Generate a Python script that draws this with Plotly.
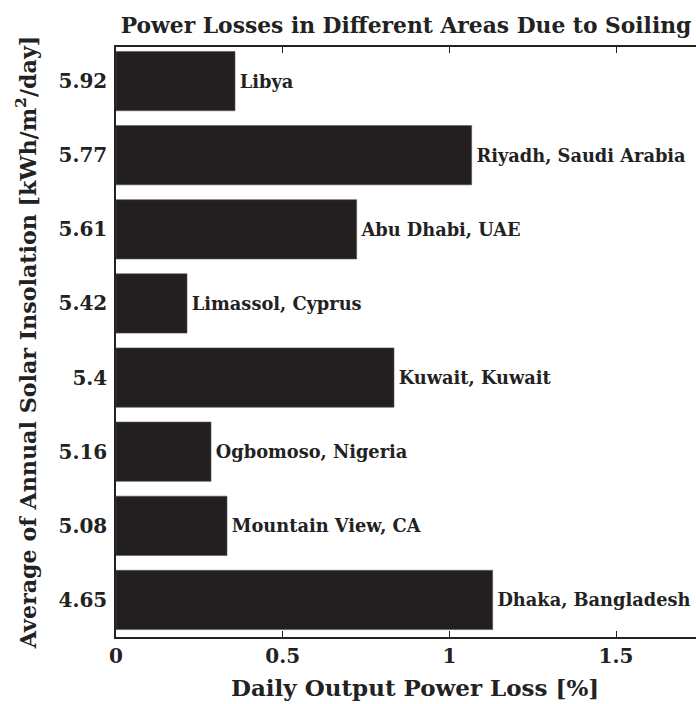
import plotly.graph_objects as go

locations = ["Libya", "Riyadh, Saudi Arabia", "Abu Dhabi, UAE", "Limassol, Cyprus",
             "Kuwait, Kuwait", "Ogbomoso, Nigeria", "Mountain View, CA", "Dhaka, Bangladesh"]
insolation = ["5.92", "5.77", "5.61", "5.42", "5.4", "5.16", "5.08", "4.65"]
power_loss = [0.357, 1.067, 0.722, 0.213, 0.834, 0.285, 0.333, 1.130]

FONT = "DejaVu Serif"
INK = "#222222"
positions = list(range(len(locations)))
bar_text = ["\u200a" + loc for loc in locations]

fig = go.Figure(go.Bar(
    x=power_loss, y=positions, orientation="h",
    marker=dict(color="#231f20", line=dict(color="#555555", width=0.6)),
    width=0.8,
    text=bar_text, textposition="outside", constraintext="none",
    textfont=dict(family=FONT, size=17.8, color=INK, weight="bold"),
    cliponaxis=False, hoverinfo="skip",
))

fig.update_layout(
    width=696, height=704,
    margin=dict(l=116, r=0, t=47, b=67),
    paper_bgcolor="white", plot_bgcolor="white",
    showlegend=False,
    title=dict(text="Power Losses in Different Areas Due to Soiling",
               x=0.5, xref="paper", xanchor="center", y=0.9645, yanchor="middle",
               font=dict(family=FONT, size=21.8, color=INK, weight="bold")),
    xaxis=dict(range=[0, 1.74], tickvals=[0, 0.5, 1, 1.5], ticktext=["0", "0.5", "1", "1.5"],
               ticks="inside", ticklen=6, tickwidth=1, tickcolor=INK,
               showline=True, linecolor=INK, linewidth=1.5, mirror="ticks",
               showgrid=False, zeroline=False, automargin=False,
               tickfont=dict(family=FONT, size=20, color=INK, weight="bold")),
    yaxis=dict(range=[7.5, -0.46], tickvals=positions, ticktext=insolation,
               ticks="", showline=True, linecolor=INK, linewidth=1.5,
               showgrid=False, zeroline=False, ticklabelstandoff=3, automargin=False,
               tickfont=dict(family=FONT, size=20, color=INK, weight="bold"),
               title=dict(text="Average of Annual Solar Insolation [kWh/m<sup>2</sup>/day]", standoff=16,
                          font=dict(family=FONT, size=22.2, color=INK, weight="bold"))),
    annotations=[dict(text="Daily Output Power Loss [%]", xref="paper", yref="paper",
                      x=0.5155, y=-0.0864, xanchor="center", yanchor="middle", showarrow=False,
                      font=dict(family=FONT, size=23, color=INK, weight="bold"))],
)

fig.write_html("out.html", config={"displayModeBar": False},
               post_script="document.body.style.margin='0';document.body.style.overflow='hidden';")
